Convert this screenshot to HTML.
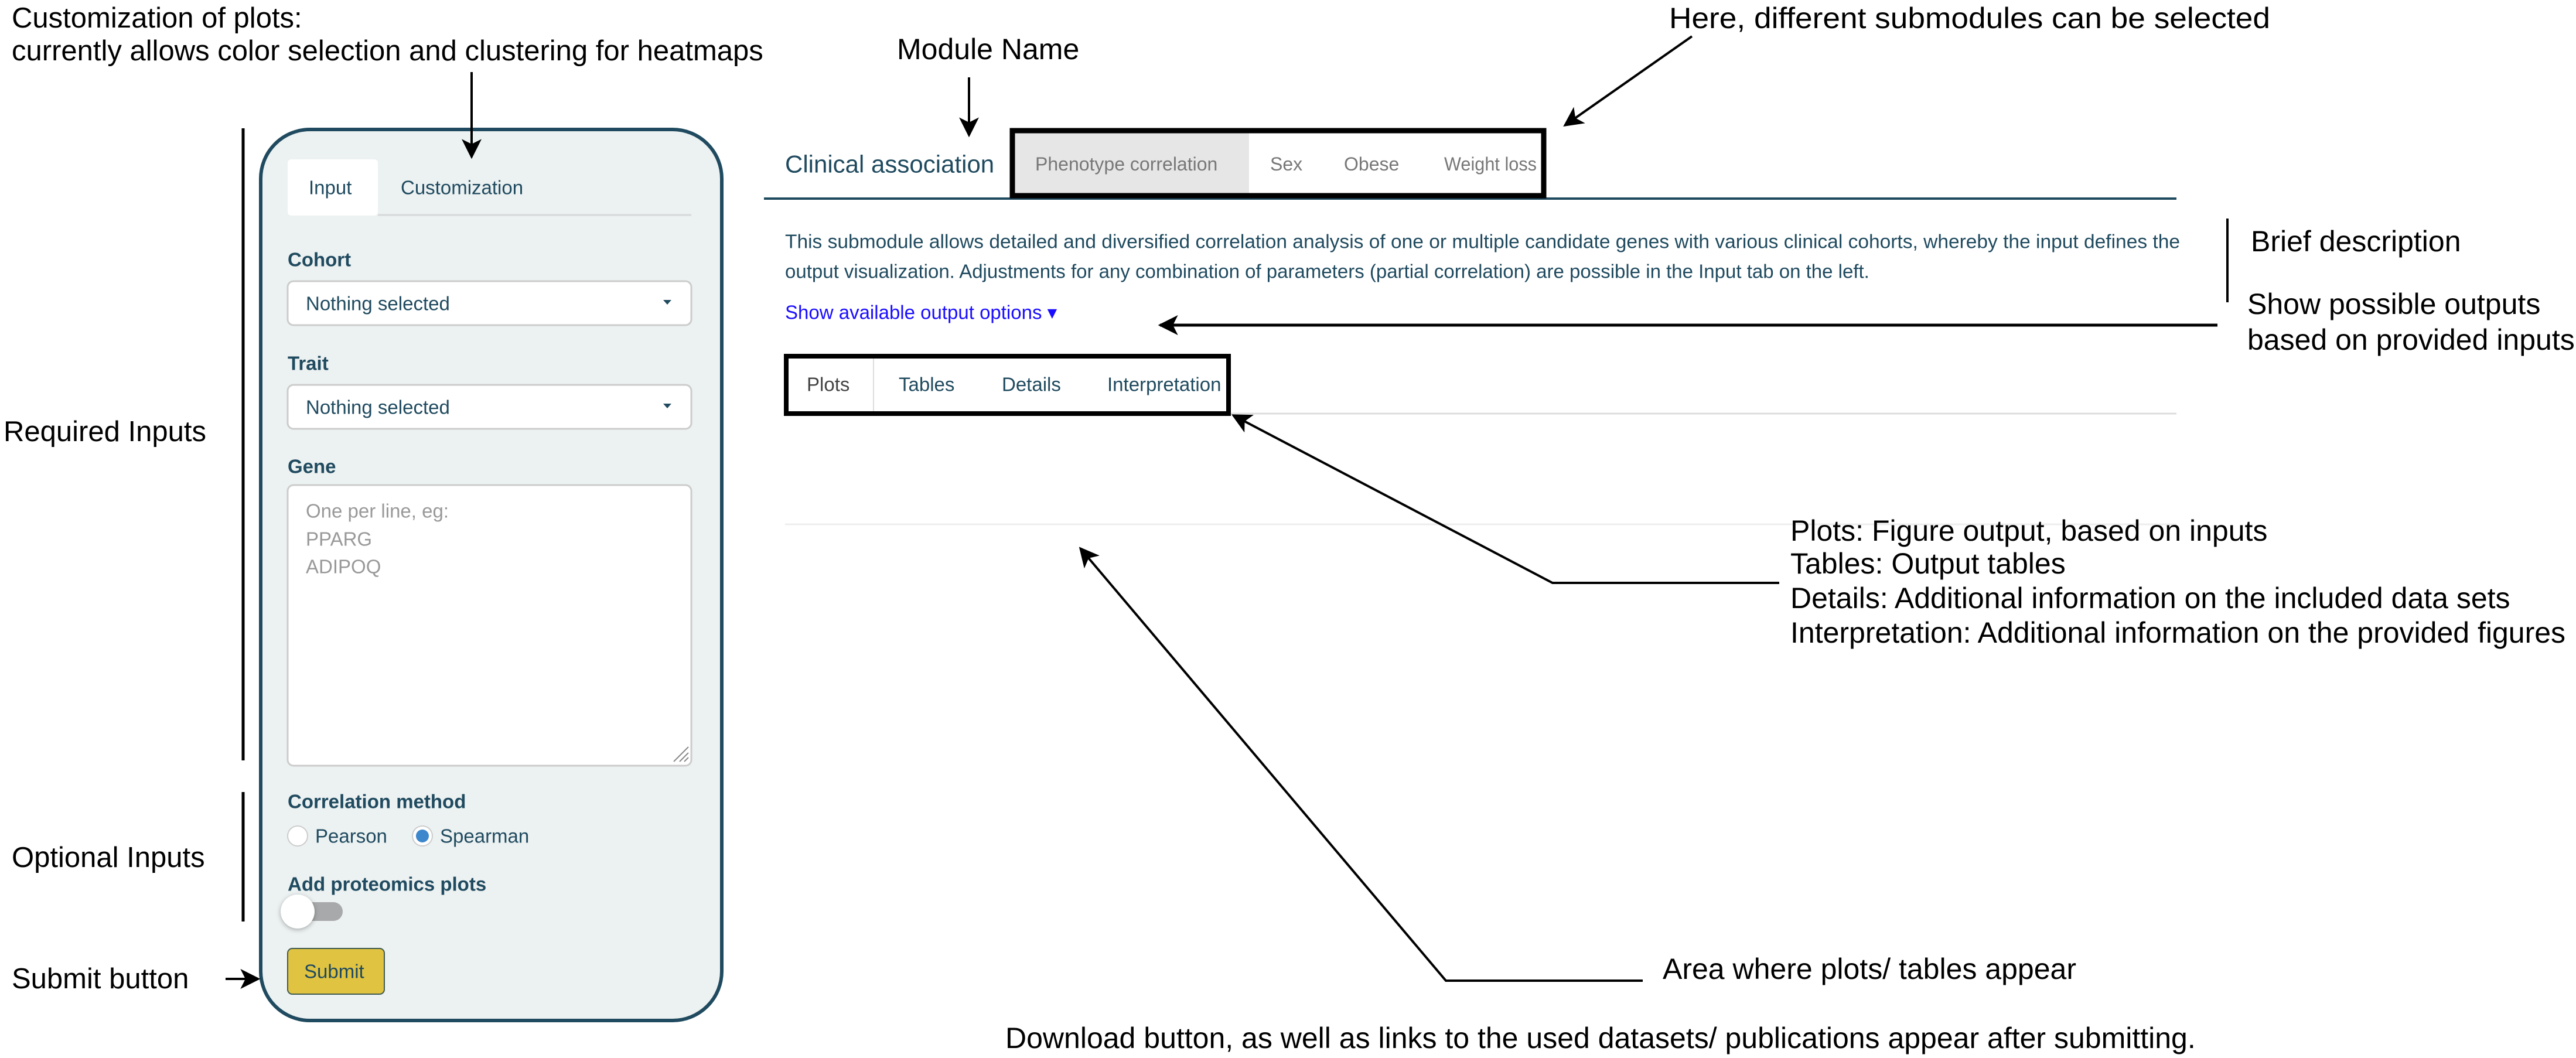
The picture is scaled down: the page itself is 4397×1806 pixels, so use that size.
<!DOCTYPE html>
<html><head><meta charset="utf-8"><style>
html,body{margin:0;padding:0;background:#fff;width:4397px;height:1806px;overflow:hidden}
svg{display:block}
text{font-family:"Liberation Sans",sans-serif;dominant-baseline:central}
.a{font-size:50px;fill:#000}
.ui{font-size:33px;fill:#1f4a5f}
.lb{font-size:33px;fill:#1f4a5f;font-weight:bold}
.g{font-size:32px;fill:#777}
.d{font-size:33px;fill:#1f4a5f}
</style></head><body>
<svg width="4397" height="1806" viewBox="0 0 4397 1806" xmlns="http://www.w3.org/2000/svg">
<defs>
<marker id="arb" viewBox="0 0 20 20" refX="18" refY="10" markerWidth="34" markerHeight="34" markerUnits="userSpaceOnUse" orient="auto">
<path d="M0,0 L20,10 L0,20 L5,10 Z" fill="#000"/>
</marker>
</defs>

<rect x="445" y="221" width="787" height="1521" rx="84" fill="#ecf1f1" stroke="#1f4a5f" stroke-width="6"/>
<rect x="491" y="272" width="154" height="96" rx="6" fill="#fff"/>
<line x1="645" y1="367" x2="1180" y2="367" stroke="#d6d9d9" stroke-width="3"/>
<text class="ui" x="527" y="320">Input</text>
<text class="ui" x="684" y="320">Customization</text>

<text class="a" x="20" y="31" style="font-size:49px">Customization of plots:</text>
<text class="a" x="20" y="87" style="font-size:49px">currently allows color selection and clustering for heatmaps</text>
<line x1="805" y1="123" x2="805" y2="268" stroke="#000" stroke-width="4" marker-end="url(#arb)"/>
<line x1="415" y1="219" x2="415" y2="1298" stroke="#000" stroke-width="5"/>
<text class="a" x="6" y="737" style="font-size:49px">Required Inputs</text>
<line x1="415" y1="1352" x2="415" y2="1573" stroke="#000" stroke-width="5"/>
<text class="a" x="20" y="1464" style="font-size:49px">Optional Inputs</text>
<text class="a" x="20" y="1671" style="font-size:49px">Submit button</text>
<line x1="385" y1="1671" x2="441" y2="1671" stroke="#000" stroke-width="4" marker-end="url(#arb)"/>

<text class="lb" x="491" y="443">Cohort</text>
<rect x="491" y="480" width="689" height="75" rx="10" fill="#fff" stroke="#ccc" stroke-width="3"/>
<text class="ui" x="522" y="518">Nothing selected</text>
<path d="M1132,512 L1146,512 L1139,520 Z" fill="#1f4a5f"/>

<text class="lb" x="491" y="620">Trait</text>
<rect x="491" y="657" width="689" height="75" rx="10" fill="#fff" stroke="#ccc" stroke-width="3"/>
<text class="ui" x="522" y="695">Nothing selected</text>
<path d="M1132,689 L1146,689 L1139,697 Z" fill="#1f4a5f"/>

<text class="lb" x="491" y="796">Gene</text>
<rect x="491" y="828" width="689" height="479" rx="10" fill="#fff" stroke="#ccc" stroke-width="3"/>
<text class="ui" x="522" y="872" style="fill:#999">One per line, eg:</text>
<text class="ui" x="522" y="920" style="fill:#999">PPARG</text>
<text class="ui" x="522" y="967" style="fill:#999">ADIPOQ</text>
<path d="M1150,1300 L1175,1275 M1160,1300 L1175,1285 M1168,1300 L1175,1293" stroke="#888" stroke-width="2"/>

<text class="lb" x="491" y="1368">Correlation method</text>
<circle cx="508" cy="1427" r="17" fill="#fff" stroke="#ccc" stroke-width="2"/>
<text class="ui" x="538" y="1427">Pearson</text>
<circle cx="721" cy="1427" r="17" fill="#fff" stroke="#ccc" stroke-width="2"/>
<circle cx="721" cy="1427" r="11" fill="#3d87cc"/>
<text class="ui" x="751" y="1427">Spearman</text>

<text class="lb" x="491" y="1509">Add proteomics plots</text>
<rect x="500" y="1540" width="85" height="32" rx="16" fill="#a8a9aa"/>
<ellipse cx="508" cy="1556" rx="29" ry="29" fill="#fff" style="filter:drop-shadow(0 2px 4px rgba(0,0,0,0.3))"/>

<rect x="491" y="1619" width="165" height="78" rx="8" fill="#e0c341" stroke="#3f5a50" stroke-width="2"/>
<text class="ui" x="519" y="1658">Submit</text>

<text class="a" x="1531" y="84">Module Name</text>
<line x1="1654" y1="132" x2="1654" y2="231" stroke="#000" stroke-width="4" marker-end="url(#arb)"/>
<text class="a" x="2849" y="31" textLength="1026" lengthAdjust="spacingAndGlyphs">Here, different submodules can be selected</text>
<line x1="2888" y1="62" x2="2671" y2="214" stroke="#000" stroke-width="4" marker-end="url(#arb)"/>

<text x="1340" y="280" style="font-size:42px;fill:#1f4a5f">Clinical association</text>
<line x1="1304" y1="339" x2="3715" y2="339" stroke="#1f4a5f" stroke-width="4"/>
<rect x="1728" y="224" width="404" height="112" fill="#e6e6e6"/>
<rect x="1728" y="223" width="907" height="111" fill="none" stroke="#000" stroke-width="9"/>
<text class="g" x="1767" y="280">Phenotype correlation</text>
<text class="g" x="2168" y="280">Sex</text>
<text class="g" x="2294" y="280">Obese</text>
<text class="g" x="2465" y="280" textLength="158" lengthAdjust="spacingAndGlyphs">Weight loss</text>

<text class="d" x="1340" y="412" textLength="2381" lengthAdjust="spacingAndGlyphs">This submodule allows detailed and diversified correlation analysis of one or multiple candidate genes with various clinical cohorts, whereby the input defines the</text>
<text class="d" x="1340" y="463">output visualization. Adjustments for any combination of parameters (partial correlation) are possible in the Input tab on the left.</text>
<text class="d" x="1340" y="533" style="fill:#1a0dff">Show available output options ▾</text>

<line x1="3802" y1="373" x2="3802" y2="516" stroke="#000" stroke-width="4"/>
<text class="a" x="3842" y="412">Brief description</text>
<text class="a" x="3836" y="519">Show possible outputs</text>
<text class="a" x="3836" y="580">based on provided inputs</text>
<line x1="3785" y1="555" x2="1980" y2="555" stroke="#000" stroke-width="5" marker-end="url(#arb)"/>

<line x1="1340" y1="706" x2="3715" y2="706" stroke="#ddd" stroke-width="3"/>
<line x1="1491" y1="610" x2="1491" y2="705" stroke="#ddd" stroke-width="2"/>
<rect x="1342" y="608" width="755" height="98" fill="none" stroke="#000" stroke-width="8"/>
<text class="ui" x="1377" y="656" style="fill:#444">Plots</text>
<text class="ui" x="1534" y="656">Tables</text>
<text class="ui" x="1710" y="656">Details</text>
<text class="ui" x="1890" y="656">Interpretation</text>
<line x1="1340" y1="895" x2="3715" y2="895" stroke="#eee" stroke-width="3"/>

<polyline points="3037,995 2650,995 2105,709" fill="none" stroke="#000" stroke-width="4" marker-end="url(#arb)"/>
<text class="a" x="3056" y="906">Plots: Figure output, based on inputs</text>
<text class="a" x="3056" y="962">Tables: Output tables</text>
<text class="a" x="3056" y="1021">Details: Additional information on the included data sets</text>
<text class="a" x="3056" y="1080">Interpretation: Additional information on the provided figures</text>

<polyline points="2804,1674 2468,1674 1844,936" fill="none" stroke="#000" stroke-width="4" marker-end="url(#arb)"/>
<text class="a" x="2838" y="1654">Area where plots/ tables appear</text>
<text class="a" x="1716" y="1772">Download button, as well as links to the used datasets/ publications appear after submitting.</text>
</svg>
</body></html>
